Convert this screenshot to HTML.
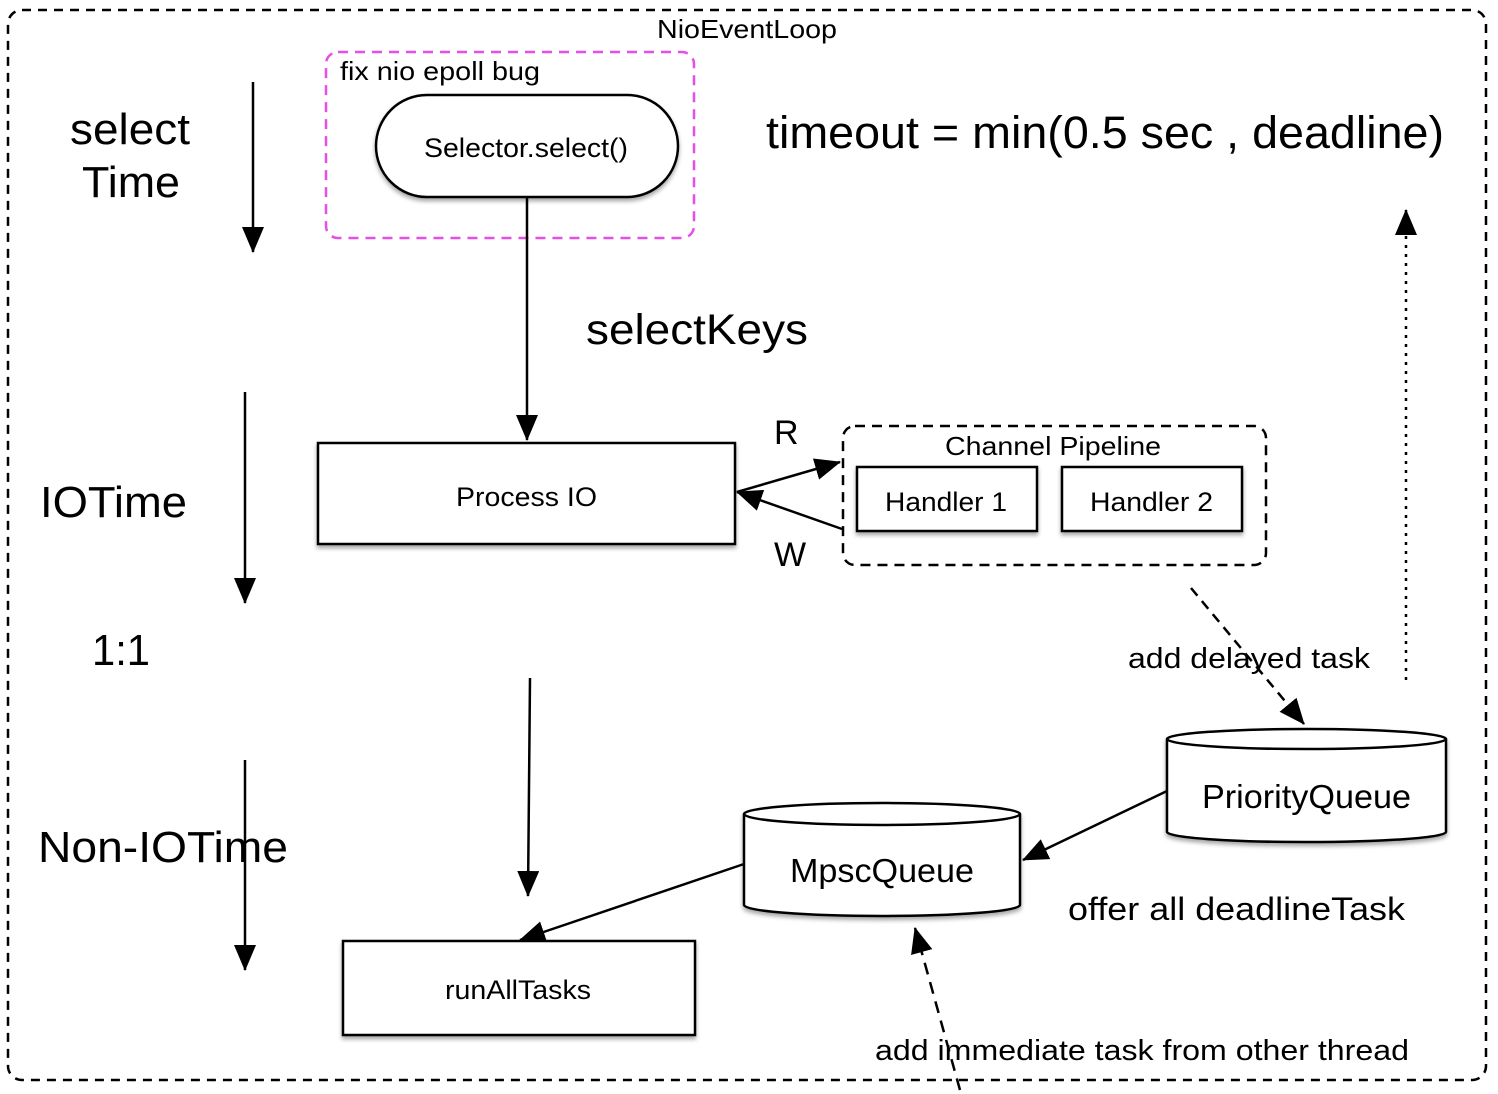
<!DOCTYPE html>
<html><head><style>
html,body{margin:0;padding:0;background:#fff;}
svg{display:block;font-family:"Liberation Sans",Arial,sans-serif;}
</style></head><body>
<svg width="1498" height="1094" viewBox="0 0 1498 1094" xmlns="http://www.w3.org/2000/svg">
<defs>
<marker id="ahb" markerWidth="26" markerHeight="22" refX="25" refY="11" orient="auto" markerUnits="userSpaceOnUse" viewBox="0 0 26 22">
<path d="M0,0 L26,11 L0,22 z" fill="#000"/></marker>
<filter id="sh" x="-10%" y="-10%" width="120%" height="130%"><feDropShadow dx="0" dy="3" stdDeviation="2" flood-color="#000" flood-opacity="0.35"/></filter>
</defs>
<rect x="8" y="10" width="1478" height="1070" rx="14" fill="none" stroke="#000" stroke-width="2.5" stroke-dasharray="9,7"/>
<text x="657" y="38" font-size="26" textLength="180" lengthAdjust="spacingAndGlyphs">NioEventLoop</text>

<rect x="326" y="52" width="368" height="186" rx="12" fill="none" stroke="#e64fe6" stroke-width="2.5" stroke-dasharray="10,7"/>
<text x="340" y="80" font-size="26" textLength="200" lengthAdjust="spacingAndGlyphs">fix nio epoll bug</text>
<rect x="376" y="95" width="302" height="102" rx="51" fill="#fff" stroke="#000" stroke-width="2.5" filter="url(#sh)"/>
<text x="424" y="157" font-size="27" textLength="204" lengthAdjust="spacingAndGlyphs">Selector.select()</text>
<line x1="527" y1="197" x2="527" y2="440" stroke="#000" stroke-width="2.5" marker-end="url(#ahb)"/>
<text x="586" y="344" font-size="43" textLength="222" lengthAdjust="spacingAndGlyphs">selectKeys</text>

<text x="766" y="148" font-size="45" textLength="678" lengthAdjust="spacingAndGlyphs">timeout = min(0.5 sec , deadline)</text>

<text x="70" y="144" font-size="44" textLength="120" lengthAdjust="spacingAndGlyphs">select</text>
<text x="82" y="197" font-size="44" textLength="98" lengthAdjust="spacingAndGlyphs">Time</text>
<line x1="253" y1="82" x2="253" y2="252" stroke="#000" stroke-width="2.5" marker-end="url(#ahb)"/>
<text x="40" y="517" font-size="44" textLength="147" lengthAdjust="spacingAndGlyphs">IOTime</text>
<line x1="245" y1="392" x2="245" y2="603" stroke="#000" stroke-width="2.5" marker-end="url(#ahb)"/>
<text x="92" y="665" font-size="44" textLength="58" lengthAdjust="spacingAndGlyphs">1:1</text>
<text x="38" y="862" font-size="44" textLength="250" lengthAdjust="spacingAndGlyphs">Non-IOTime</text>
<line x1="245" y1="760" x2="245" y2="970" stroke="#000" stroke-width="2.5" marker-end="url(#ahb)"/>

<rect x="318" y="443" width="417" height="101" fill="#fff" stroke="#000" stroke-width="2.5" filter="url(#sh)"/>
<text x="456" y="506" font-size="27" textLength="141" lengthAdjust="spacingAndGlyphs">Process IO</text>

<line x1="737" y1="492" x2="840" y2="462" stroke="#000" stroke-width="2.5" marker-end="url(#ahb)"/>
<line x1="842" y1="529" x2="737" y2="492" stroke="#000" stroke-width="2.5" marker-end="url(#ahb)"/>
<text x="774" y="444" font-size="34">R</text>
<text x="774" y="566" font-size="34">W</text>

<rect x="843" y="426" width="423" height="139" rx="12" fill="none" stroke="#000" stroke-width="2.5" stroke-dasharray="10,7"/>
<text x="945" y="455" font-size="26" textLength="216" lengthAdjust="spacingAndGlyphs">Channel Pipeline</text>
<rect x="857" y="467" width="180" height="64" fill="#fff" stroke="#000" stroke-width="2.5" filter="url(#sh)"/>
<text x="885" y="511" font-size="27" textLength="122" lengthAdjust="spacingAndGlyphs">Handler 1</text>
<rect x="1062" y="467" width="180" height="64" fill="#fff" stroke="#000" stroke-width="2.5" filter="url(#sh)"/>
<text x="1090" y="511" font-size="27" textLength="123" lengthAdjust="spacingAndGlyphs">Handler 2</text>

<line x1="1191" y1="588" x2="1304" y2="724" stroke="#000" stroke-width="2.5" stroke-dasharray="10,7" marker-end="url(#ahb)"/>
<text x="1128" y="668" font-size="29" textLength="242" lengthAdjust="spacingAndGlyphs">add delayed task</text>
<line x1="1406" y1="680" x2="1406" y2="210" stroke="#000" stroke-width="2.5" stroke-dasharray="3,6" marker-end="url(#ahb)"/>

<g filter="url(#sh)">
<path d="M1167,739 L1167,832 A139.5,10 0 0 0 1446,832 L1446,739" fill="#fff" stroke="#000" stroke-width="2.5"/>
<ellipse cx="1306.5" cy="739" rx="139.5" ry="10" fill="#fff" stroke="#000" stroke-width="2.5"/>
</g>
<text x="1202" y="808" font-size="33" textLength="209" lengthAdjust="spacingAndGlyphs">PriorityQueue</text>

<g filter="url(#sh)">
<path d="M744,814 L744,905 A138,11 0 0 0 1020,905 L1020,814" fill="#fff" stroke="#000" stroke-width="2.5"/>
<ellipse cx="882" cy="814" rx="138" ry="11" fill="#fff" stroke="#000" stroke-width="2.5"/>
</g>
<text x="790" y="882" font-size="33" textLength="184" lengthAdjust="spacingAndGlyphs">MpscQueue</text>

<line x1="1167" y1="791" x2="1023" y2="860" stroke="#000" stroke-width="2.5" marker-end="url(#ahb)"/>
<text x="1068" y="920" font-size="32" textLength="337" lengthAdjust="spacingAndGlyphs">offer all deadlineTask</text>

<line x1="530" y1="678" x2="528" y2="896" stroke="#000" stroke-width="2.5" marker-end="url(#ahb)"/>
<line x1="744" y1="864" x2="520" y2="940" stroke="#000" stroke-width="2.5" marker-end="url(#ahb)"/>

<rect x="343" y="941" width="352" height="94" fill="#fff" stroke="#000" stroke-width="2.5" filter="url(#sh)"/>
<text x="445" y="999" font-size="27" textLength="146" lengthAdjust="spacingAndGlyphs">runAllTasks</text>

<line x1="960" y1="1090" x2="915" y2="928" stroke="#000" stroke-width="2.5" stroke-dasharray="12,8" marker-end="url(#ahb)"/>
<text x="875" y="1060" font-size="29" textLength="534" lengthAdjust="spacingAndGlyphs">add immediate task from other thread</text>
</svg>
</body></html>
